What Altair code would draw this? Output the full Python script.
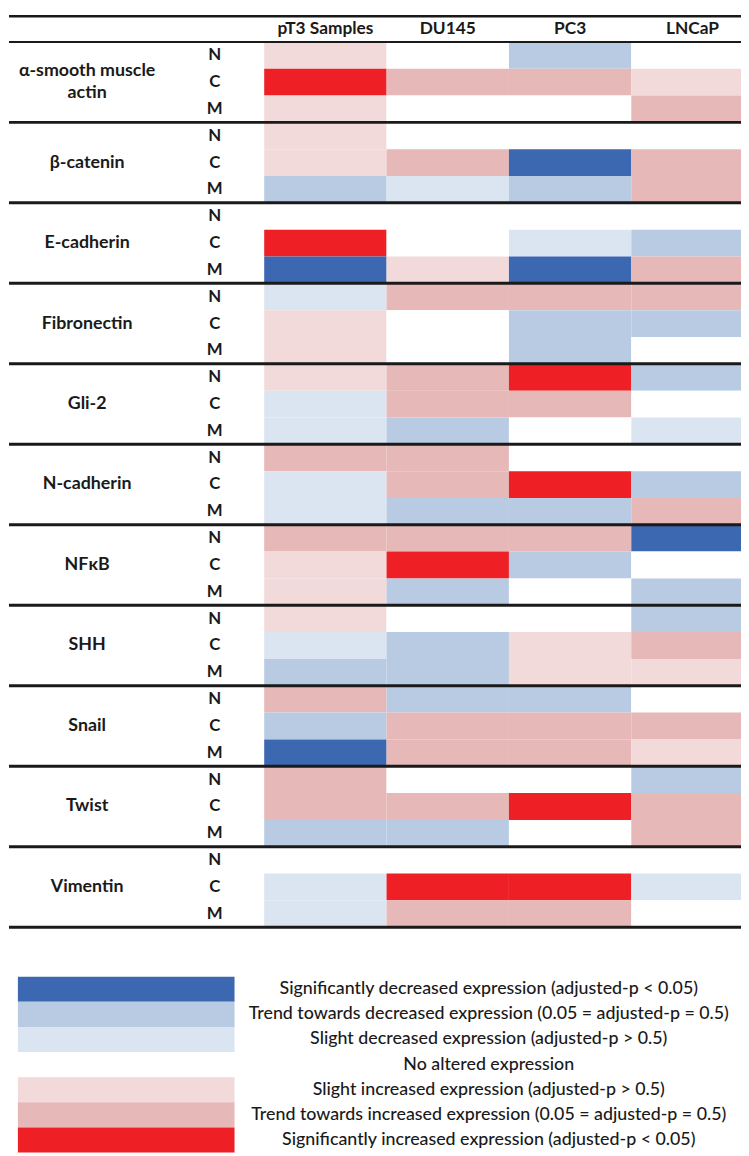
import altair as alt
import pandas as pd

# ---------------- data ----------------
columns = ["pT3 Samples", "DU145", "PC3", "LNCaP"]
genes = ["α-smooth muscle\nactin", "β-catenin", "E-cadherin", "Fibronectin", "Gli-2",
         "N-cadherin", "NFκB", "SHH", "Snail", "Twist", "Vimentin"]
compartments = ["N", "C", "M"]

# expression level per compartment row (N, C, M) and column (pT3, DU145, PC3, LNCaP)
# -3 significant decrease ... 0 no change ... 3 significant increase
alpha_sma    = [[1, 0, -2, 0], [3, 2, 2, 1], [1, 0, 0, 2]]
beta_catenin = [[1, 0, 0, 0], [1, 2, -3, 2], [-2, -1, -2, 2]]
e_cadherin   = [[0, 0, 0, 0], [3, 0, -1, -2], [-3, 1, -3, 2]]
fibronectin  = [[-1, 2, 2, 2], [1, 0, -2, -2], [1, 0, -2, 0]]
gli2         = [[1, 2, 3, -2], [-1, 2, 2, 0], [-1, -2, 0, -1]]
n_cadherin   = [[2, 2, 0, 0], [-1, 2, 3, -2], [-1, -2, -2, 2]]
nfkb         = [[2, 2, 2, -3], [1, 3, -2, 0], [1, -2, 0, -2]]
shh          = [[1, 0, 0, -2], [-1, -2, 1, 2], [-2, -2, 1, 1]]
snail        = [[2, -2, -2, 0], [-2, 2, 2, 2], [-3, 2, 2, 1]]
twist        = [[2, 0, 0, -2], [2, 2, 3, 2], [-2, -2, 0, 2]]
vimentin     = [[0, 0, 0, 0], [-1, 3, 3, -1], [-1, 2, 2, 0]]
gene_values = [alpha_sma, beta_catenin, e_cadherin, fibronectin, gli2,
               n_cadherin, nfkb, shh, snail, twist, vimentin]

legend_levels = [-3, -2, -1, 0, 1, 2, 3]
legend_labels = [
    "Significantly decreased expression (adjusted-p < 0.05)",
    "Trend towards decreased expression (0.05 = adjusted-p = 0.5)",
    "Slight decreased expression (adjusted-p > 0.5)",
    "No altered expression",
    "Slight increased expression (adjusted-p > 0.5)",
    "Trend towards increased expression (0.05 = adjusted-p = 0.5)",
    "Significantly increased expression (adjusted-p < 0.05)",
]
level_colors = ["#3C67B1", "#B8CBE3", "#DAE5F1", "#FFFFFF", "#F2DADB", "#E6B8B7", "#EE1F25"]

# ---------------- layout ----------------
W, H = 741, 1148
COL_W, TABLE_X0 = 123.7, 259.0      # px
ROW_H, TABLE_Y0 = 27.12, 28.0       # px
LEG_H, LEG_Y0 = 25.4, 973.0         # px
GENE_LH = 23                        # px line height of wrapped gene names
FONT = "Lato"
INK = "#1a1a1a"

xscale = alt.Scale(domain=[-TABLE_X0 / COL_W, (W - TABLE_X0) / COL_W], nice=False, zero=False)
yscale = alt.Scale(domain=[-TABLE_Y0 / ROW_H, (H - TABLE_Y0) / ROW_H], nice=False, zero=False, reverse=True)
lscale = alt.Scale(domain=[-LEG_Y0 / LEG_H, (H - LEG_Y0) / LEG_H], nice=False, zero=False, reverse=True)
cscale = alt.Scale(domain=legend_levels, range=level_colors)

recs = []
for k, vals in enumerate(gene_values):
    for j, comp in enumerate(compartments):
        for i, col in enumerate(columns):
            recs.append(dict(gene=genes[k], comp=comp, column=col,
                             c0=i, c1=i + 1, r0=3 * k + j, r1=3 * k + j + 1,
                             level=vals[j][i]))
cells_df = pd.DataFrame(recs)

comp_df = pd.DataFrame([dict(comp=c, ry=3 * k + j + 0.5)
                        for k in range(len(genes)) for j, c in enumerate(compartments)])
# centre multi-line labels on their block
gene_df = pd.DataFrame([dict(gene=g, ry=3 * k + 1.5 - (g.count("\n") * GENE_LH / 2) / ROW_H)
                        for k, g in enumerate(genes)])
head_df = pd.DataFrame([dict(column=c, cx=i + 0.5) for i, c in enumerate(columns)])
blocks_df = pd.DataFrame([dict(pos=3 * k) for k in range(1, len(genes) + 1)])
header_line_df = pd.DataFrame([dict(pos=0)])
leg_df = pd.DataFrame([dict(label=l, level=v, i0=i, i1=i + 1, im=i + 0.5)
                       for i, (l, v) in enumerate(zip(legend_labels, legend_levels))])

cells = alt.Chart(cells_df).mark_rect(clip=True).encode(
    x=alt.X("c0:Q", scale=xscale, axis=None),
    x2="c1:Q",
    y=alt.Y("r0:Q", scale=yscale, axis=None),
    y2="r1:Q",
    color=alt.Color("level:O", scale=cscale, legend=None),
)

block_lines = alt.Chart(blocks_df).mark_rule(color=INK, strokeWidth=3).encode(
    y=alt.Y("pos:Q", scale=yscale, axis=None), x=alt.value(1), x2=alt.value(W))
header_line = alt.Chart(header_line_df).mark_rule(color=INK, strokeWidth=2).encode(
    y=alt.Y("pos:Q", scale=yscale, axis=None), x=alt.value(1), x2=alt.value(W))
top_line = alt.Chart(header_line_df).mark_rule(color=INK, strokeWidth=2.5).encode(
    y=alt.value(2), x=alt.value(1), x2=alt.value(W))

head_text = alt.Chart(head_df).mark_text(font=FONT, fontSize=17.5, fontWeight="bold", color=INK,
                                         baseline="middle", align="center").encode(
    x=alt.X("cx:Q", scale=xscale, axis=None), y=alt.value(15), text="column:N")

gene_text = alt.Chart(gene_df).mark_text(font=FONT, fontSize=18, fontWeight="bold", color=INK,
                                         baseline="middle", align="center",
                                         lineBreak="\n", lineHeight=GENE_LH).encode(
    x=alt.value(80), y=alt.Y("ry:Q", scale=yscale, axis=None), text="gene:N")

comp_text = alt.Chart(comp_df).mark_text(font=FONT, fontSize=17, fontWeight="bold", color=INK,
                                         baseline="middle", align="center").encode(
    x=alt.value(209), y=alt.Y("ry:Q", scale=yscale, axis=None), text="comp:N")

table = alt.layer(cells, block_lines, header_line, top_line, head_text, gene_text, comp_text)

leg_rect = alt.Chart(leg_df).mark_rect().encode(
    x=alt.value(10), x2=alt.value(229),
    y=alt.Y("i0:Q", scale=lscale, axis=None), y2="i1:Q",
    color=alt.Color("level:O", scale=cscale, legend=None),
)
leg_text = alt.Chart(leg_df).mark_text(font=FONT, fontSize=18, fontWeight=500, color=INK,
                                       baseline="middle", align="center").encode(
    x=alt.value(486), y=alt.Y("im:Q", scale=lscale, axis=None), text="label:N")
legend = alt.layer(leg_rect, leg_text)

chart = alt.layer(table, legend).resolve_scale(y="independent").properties(
    width=W, height=H, padding=0, autosize=alt.AutoSizeParams(type="none"),
    background="white",
).configure_view(strokeWidth=0)

chart.save("out.html", embed_options={"renderer": "svg", "actions": False})
